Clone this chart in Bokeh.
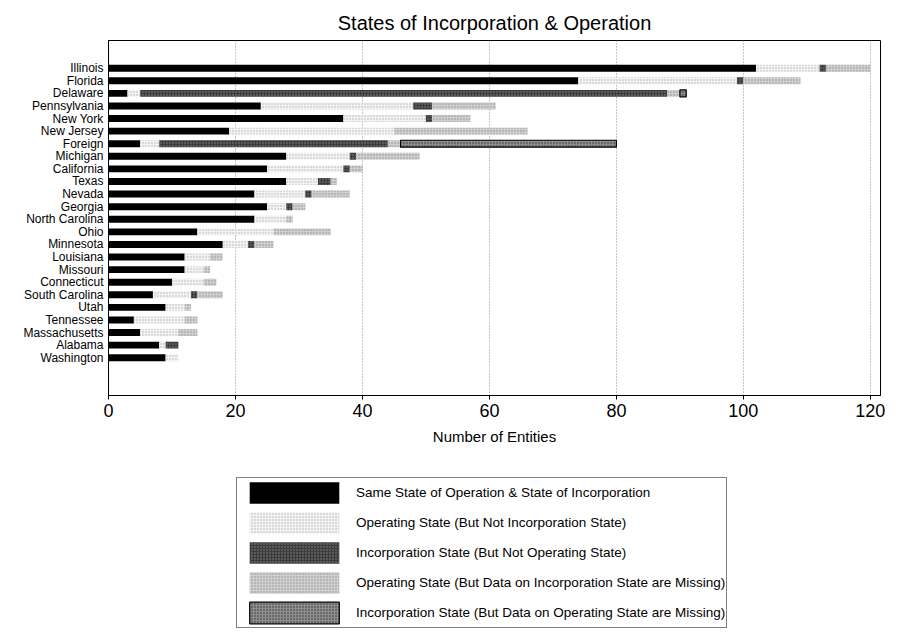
from bokeh.plotting import figure
from bokeh.layouts import column
from bokeh.models import Range1d, FixedTicker, ColumnDataSource, Legend, LegendItem
from bokeh.transform import stack
from bokeh.embed import file_html
from bokeh.resources import INLINE

states = ["Illinois", "Florida", "Delaware", "Pennsylvania", "New York", "New Jersey",
          "Foreign", "Michigan", "California", "Texas", "Nevada", "Georgia",
          "North Carolina", "Ohio", "Minnesota", "Louisiana", "Missouri", "Connecticut",
          "South Carolina", "Utah", "Tennessee", "Massachusetts", "Alabama", "Washington"]
same_state = [102, 74, 3, 24, 37, 19, 5, 28, 25, 28, 23, 25, 23, 14, 18, 12, 12, 10, 7, 9, 4, 5, 8, 9]
op_not_inc = [10, 25, 2, 24, 13, 26, 3, 10, 12, 5, 8, 3, 5, 12, 4, 4, 3, 5, 6, 3, 8, 6, 1, 2]
inc_not_op = [1, 1, 83, 3, 1, 0, 36, 1, 1, 2, 1, 1, 0, 0, 1, 0, 0, 0, 1, 0, 0, 0, 2, 0]
op_missing = [7, 9, 2, 10, 6, 21, 2, 10, 2, 1, 6, 2, 1, 9, 3, 2, 1, 2, 4, 1, 2, 3, 0, 0]
inc_missing = [0, 0, 1, 0, 0, 0, 34, 0, 0, 0, 0, 0, 0, 0, 0, 0, 0, 0, 0, 0, 0, 0, 0, 0]
x_ticks = [0, 20, 40, 60, 80, 100, 120]

series = ["same", "opni", "inop", "opmis", "inmis"]
labels = ["Same State of Operation & State of Incorporation",
          "Operating State (But Not Incorporation State)",
          "Incorporation State (But Not Operating State)",
          "Operating State (But Data on Incorporation State are Missing)",
          "Incorporation State (But Data on Operating State are Missing)"]

n = len(states)
ypos = [n - 1 - i for i in range(n)]
source = ColumnDataSource(dict(
    y=ypos, same=same_state, opni=op_not_inc, inop=inc_not_op,
    opmis=op_missing, inmis=inc_missing,
    inmis_line=[1 if v > 0 else 0 for v in inc_missing],
))

FONT = "Liberation Sans"
p = figure(width=889, height=460, output_backend="svg", toolbar_location=None,
           x_range=Range1d(0, 121.6), y_range=Range1d(-3.0, n - 1 + 2.2),
           min_border_left=108, min_border_right=9, min_border_top=40,
           min_border_bottom=65,
           title="States of Incorporation & Operation")
p.title.align = "center"
p.title.vertical_align = "top"
p.title.text_font = FONT
p.title.text_font_size = "20px"
p.title.text_font_style = "normal"
p.title.text_color = "black"
p.outline_line_color = "black"
p.outline_line_width = 1

styles = [
    dict(fill_color="#000000"),
    dict(fill_color="#f3f3f3", hatch_pattern=".", hatch_color="#b0b0b0", hatch_scale=3),
    dict(fill_color="#3c3c3c", hatch_pattern=".", hatch_color="#8a8a8a", hatch_scale=3),
    dict(fill_color="#d0d0d0", hatch_pattern=".", hatch_color="#8c8c8c", hatch_scale=3),
    dict(fill_color="#8e8e8e", hatch_pattern=".", hatch_color="#303030", hatch_scale=3),
]

# legend figure: same stacked bars, kept out of view, only their legend swatches show
lp = figure(width=889, height=174, output_backend="svg", toolbar_location=None,
            x_axis_location=None, y_axis_location=None,
            x_range=Range1d(0, 1), y_range=Range1d(1000, 1001),
            min_border=0, min_border_left=0, min_border_right=0,
            min_border_top=0, min_border_bottom=0)
lp.outline_line_color = None
lp.xgrid.visible = False
lp.ygrid.visible = False

items = []
for k, (name, lab, st) in enumerate(zip(series, labels, styles)):
    kw = dict(st)
    if name == "inmis":
        lkw = dict(kw, line_color="black", line_width=1.2)
        kw.update(line_color="black", line_width=1.2, line_alpha="inmis_line")
    else:
        kw.update(line_color=None)
        lkw = dict(kw)
    p.hbar(y="y", height=0.55, left=stack(*series[:k]), right=stack(*series[:k + 1]),
           source=source, **kw)
    r = lp.hbar(y="y", height=0.55, left=stack(*series[:k]), right=stack(*series[:k + 1]),
                source=source, **lkw)
    items.append(LegendItem(label=lab, renderers=[r]))

# axes
p.xaxis.ticker = FixedTicker(ticks=x_ticks)
p.xaxis.axis_label = "Number of Entities"
p.xaxis.axis_label_text_font = FONT
p.xaxis.axis_label_text_font_size = "15px"
p.xaxis.axis_label_text_font_style = "normal"
p.xaxis.axis_label_text_color = "black"
p.xaxis.axis_label_standoff = 8
p.xaxis.major_label_text_font = FONT
p.xaxis.major_label_text_font_size = "18px"
p.xaxis.major_label_text_color = "black"
p.xaxis.major_tick_out = 4
p.xaxis.major_tick_in = 0
p.xaxis.minor_tick_line_color = None
p.xaxis.major_label_standoff = 4
p.xaxis.axis_line_color = "black"

p.yaxis.ticker = FixedTicker(ticks=ypos)
p.yaxis.major_label_overrides = {y: s for y, s in zip(ypos, states)}
p.yaxis.major_label_text_font = FONT
p.yaxis.major_label_text_font_size = "12px"
p.yaxis.major_label_text_color = "black"
p.yaxis.major_tick_out = 0
p.yaxis.major_tick_in = 0
p.yaxis.minor_tick_line_color = None
p.yaxis.major_label_standoff = 5
p.yaxis.axis_line_color = "black"

p.ygrid.grid_line_color = None
p.xgrid.grid_line_color = "#8a8a8a"
p.xgrid.grid_line_dash = "1 2"

lg = Legend(items=items, location=(128, 6))
lg.border_line_color = "black"
lg.border_line_width = 1
lg.background_fill_color = "white"
lg.background_fill_alpha = 1
lg.glyph_width = 112
lg.glyph_height = 27
lg.spacing = 3
lg.padding = 1
lg.margin = 0
lg.label_standoff = 6
lg.label_text_font = FONT
lg.label_text_font_size = "13.5px"
lg.label_text_color = "black"
lg.label_height = 27
lg.label_text_baseline = "middle"
lp.add_layout(lg, "center")

open("out.html", "w").write(file_html(column(p, lp), INLINE))
